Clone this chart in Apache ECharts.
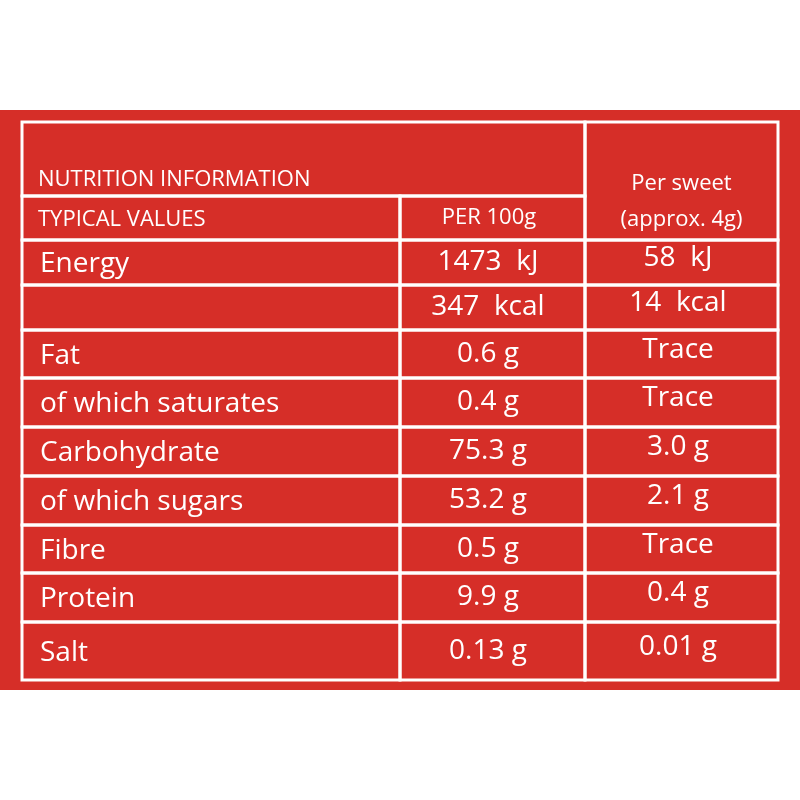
<!DOCTYPE html>
<html>
<head>
<meta charset="UTF-8">
<script src="https://cdn.jsdelivr.net/npm/echarts@6/dist/echarts.min.js"></script>
<style>html,body{margin:0;background:#fff}</style>
</head>
<body>
<div id="main" style="width:800px;height:800px"></div>
<script>
// table contents
var title = 'NUTRITION INFORMATION';
var headers = ['TYPICAL VALUES', 'PER 100g', 'Per sweet\n(approx. 4g)'];
var nutrients = ['Energy', '', 'Fat', 'of which saturates', 'Carbohydrate', 'of which sugars', 'Fibre', 'Protein', 'Salt'];
var per100g = ['1473  kJ', '347  kcal', '0.6 g', '0.4 g', '75.3 g', '53.2 g', '0.5 g', '9.9 g', '0.13 g'];
var perSweet = ['58  kJ', '14  kcal', 'Trace', 'Trace', '3.0 g', '2.1 g', 'Trace', '0.4 g', '0.01 g'];

// layout (pixels relative to the table box)
var colX = [0, 378, 563, 756];
var rowY = [0, 74, 118, 163, 208, 256, 305, 354, 403, 451, 500, 558];
var red = '#d62e28';
var font = '"Open Sans", "DejaVu Sans", sans-serif';

var rows = [];
rows.push({kind: 'title'});
rows.push({kind: 'head'});
for (var i = 0; i < nutrients.length; i++) rows.push({kind: 'data', i: i});

function cell(api, x0, x1, y0, y1) {
  var a = api.coord([colX[x0], rowY[y0]]);
  var b = api.coord([colX[x1], rowY[y1]]);
  return {type: 'rect', shape: {x: a[0], y: a[1], width: b[0] - a[0], height: b[1] - a[1]},
    style: {fill: 'none', stroke: '#fff', lineWidth: 3}};
}
function txt(api, x, y, s, align, size) {
  var p = api.coord([x, y]);
  return {type: 'text', x: p[0], y: p[1],
    style: {text: s, fill: '#fff', font: '500 ' + size + 'px ' + font, align: align, verticalAlign: 'middle', lineHeight: 36}};
}

function renderItem(params, api) {
  var r = rows[params.dataIndex];
  var k = params.dataIndex;
  var els = [];
  if (r.kind === 'title') {
    els.push(cell(api, 0, 2, 0, 1));
    els.push(cell(api, 2, 3, 0, 2));
    els.push(txt(api, 16, 58, title, 'left', 22));
    els.push(txt(api, (colX[2] + colX[3]) / 2, 80, headers[2], 'center', 22));
  } else if (r.kind === 'head') {
    els.push(cell(api, 0, 1, 1, 2));
    els.push(cell(api, 1, 2, 1, 2));
    els.push(txt(api, 16, 98, headers[0], 'left', 22));
    els.push(txt(api, 467, 96, headers[1], 'center', 22));
  } else {
    var y0 = k, y1 = k + 1, ym = (rowY[y0] + rowY[y1]) / 2;
    els.push(cell(api, 0, 1, y0, y1));
    els.push(cell(api, 1, 2, y0, y1));
    els.push(cell(api, 2, 3, y0, y1));
    els.push(txt(api, 18, ym + 2, nutrients[r.i], 'left', 28));
    els.push(txt(api, 466, ym, per100g[r.i], 'center', 28));
    els.push(txt(api, 656, ym - 4, perSweet[r.i], 'center', 28));
  }
  return {type: 'group', children: els};
}

var chart = echarts.init(document.getElementById('main'));
chart.setOption({
  backgroundColor: '#fff',
  graphic: [{type: 'rect', z: -10, shape: {x: 0, y: 110, width: 800, height: 580}, style: {fill: red}}],
  grid: {left: 22, right: 22, top: 122, bottom: 120},
  xAxis: {type: 'value', min: 0, max: 756, show: false},
  yAxis: {type: 'value', min: 0, max: 558, inverse: true, show: false},
  series: [{type: 'custom', renderItem: renderItem, data: rows.map(function (r, i) { return i; }), silent: true, clip: false}]
});
</script>
</body>
</html>
